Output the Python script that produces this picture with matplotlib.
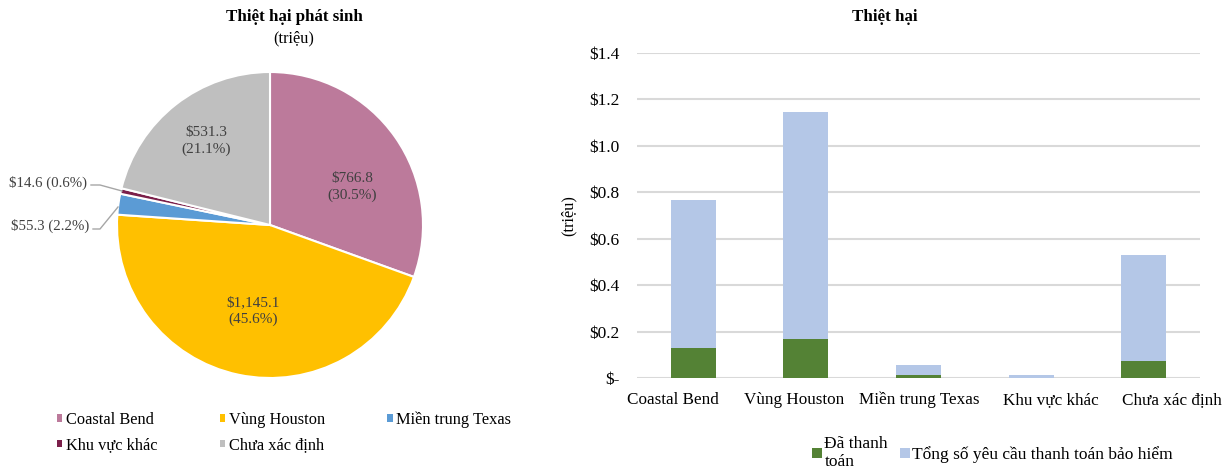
import numpy as np
import matplotlib
matplotlib.use("Agg")
import matplotlib.pyplot as plt
from matplotlib.patches import Patch
from matplotlib.transforms import ScaledTranslation

plt.rcParams['font.family'] = ['Liberation Serif', 'DejaVu Serif']

# ---- data ----
regions = ["Coastal Bend", "Vùng Houston", "Miền trung Texas", "Khu vực khác", "Chưa xác định"]
incurred = [766.8, 1145.1, 55.3, 14.6, 531.3]
incurred_pct = [30.5, 45.6, 2.2, 0.6, 21.1]
pie_colors = ["#BC7A9B", "#FFC000", "#5B9BD5", "#7B1F4A", "#BFBFBF"]

total_claims = [0.767, 1.145, 0.055, 0.015, 0.531]
paid = [0.128, 0.168, 0.015, 0.0, 0.075]
yticks = [0, 0.2, 0.4, 0.6, 0.8, 1.0, 1.2, 1.4]
ytick_labels = ["$-", "$0.2", "$0.4", "$0.6", "$0.8", "$1.0", "$1.2", "$1.4"]

W, H = 1231, 470
fig = plt.figure(figsize=(W / 100, H / 100), dpi=100)

def fx(px): return px / W
def fy(py): return 1 - py / H

# ---- pie ----
cx, cy, R = 270, 225, 153
axp = fig.add_axes([fx(cx - R), fy(cy + R), 2 * R / W, 2 * R / H])
wedges, _ = axp.pie(incurred, colors=pie_colors, startangle=90, counterclock=False,
                    wedgeprops=dict(edgecolor="white", linewidth=1.5))
axp.set_xlim(-1, 1); axp.set_ylim(-1, 1)
axp.set_aspect('auto')
axp.axis('off')

def P(px, py):
    return ((px - cx) / R, (cy - py) / R)

inside = {0: (352, 187), 1: (253, 311), 4: (206, 141)}
for i, (px, py) in inside.items():
    tx, ty = P(px, py)
    val = f"${incurred[i]:,.1f}"
    axp.text(tx, ty, f"{val}\n({incurred_pct[i]}%)", ha='center', va='center',
             fontsize=11, color="#404040", linespacing=1.35)

small = {3: ((87, 183), [(91, 185), (100, 185), (122, 191)]),
         2: ((89, 226), [(93, 229), (100, 229), (118, 207)])}
for i, (tpos, pts) in small.items():
    tx, ty = P(*tpos)
    axp.text(tx, ty, f"${incurred[i]:,.1f} ({incurred_pct[i]}%)", ha='right', va='center',
             fontsize=10.7, color="#404040", clip_on=False)
    xs, ys = zip(*[P(*p) for p in pts])
    axp.plot(xs, ys, color="#A6A6A6", lw=1, clip_on=False)

fig.text(fx(294), fy(17), "Thiệt hại phát sinh", ha='center', va='center',
         fontsize=12.2, fontweight='bold')
fig.text(fx(294), fy(38), "(triệu)", ha='center', va='center', fontsize=11.8)

order = [0, 3, 1, 4, 2]
handles = [Patch(facecolor=pie_colors[i]) for i in order]
labels = [regions[i] for i in order]
fig.legend(handles, labels, loc='upper left', bbox_to_anchor=(fx(42), fy(397)), ncol=3,
           frameon=False, fontsize=11.8, handlelength=0.35, handleheight=0.35,
           handletextpad=0.2, columnspacing=3.8, labelspacing=0.55)

# ---- bars ----
axb = fig.add_axes([fx(637), fy(378), (1200 - 637) / W, (378 - 53) / H])
x = np.arange(len(regions))
axb.bar(x, total_claims, width=0.4, color="#B4C7E7", zorder=2)
axb.bar(x, paid, width=0.4, color="#548235", zorder=3)
axb.set_xlim(-0.5, 4.5)
axb.set_ylim(0, 1.4)
axb.set_yticks(yticks)
axb.set_yticklabels(ytick_labels, fontsize=12.5)
axb.set_xticks(x)
axb.set_xticklabels(regions, fontsize=12.3)
axb.tick_params(length=0, pad=12.5)
axb.tick_params(axis='x', pad=10)
label_shift_px = [-20, -12, 1, 20, 28]
for lab, dx in zip(axb.get_xticklabels(), label_shift_px):
    lab.set_transform(lab.get_transform() + ScaledTranslation(dx / 100, 0, fig.dpi_scale_trans))
axb.grid(axis='y', color="#D9D9D9", lw=1.5, zorder=0)
for s in axb.spines.values():
    s.set_visible(False)
axb.set_ylabel("(triệu)", fontsize=11.8, labelpad=9)
fig.text(fx(885), fy(17), "Thiệt hại", ha='center', va='center',
         fontsize=12.2, fontweight='bold')

bh = [Patch(facecolor="#548235"), Patch(facecolor="#B4C7E7")]
fig.legend(bh, ["Đã thanh\ntoán", "Tổng số yêu cầu thanh toán bảo hiểm"], loc='center left',
           bbox_to_anchor=(fx(800), fy(453)), ncol=2, frameon=False, fontsize=12.5,
           handlelength=0.55, handleheight=0.55, handletextpad=0.15, columnspacing=0.7,
           borderpad=0.2)

fig.savefig("out.png", dpi=100)
